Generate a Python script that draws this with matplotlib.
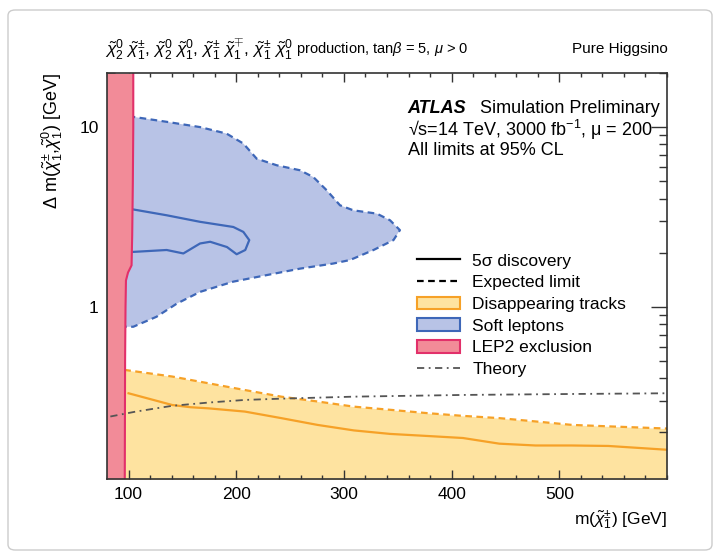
import numpy as np
import matplotlib
matplotlib.use('Agg')
import matplotlib.pyplot as plt
from matplotlib.lines import Line2D
from matplotlib.patches import Patch, FancyBboxPatch
from matplotlib.ticker import MultipleLocator, FixedLocator, FixedFormatter, LogLocator, NullFormatter

plt.rcParams['font.family'] = ['Liberation Sans', 'DejaVu Sans']
plt.rcParams['mathtext.fontset'] = 'custom'
plt.rcParams['mathtext.rm'] = 'Liberation Sans'
plt.rcParams['mathtext.it'] = 'Liberation Sans:italic'
plt.rcParams['mathtext.bf'] = 'Liberation Sans:bold'

# ---------------- data ----------------
# LEP2 exclusion boundary (x = m(chi1+-), as a function of delta m)
lep_dm = [0.11, 0.5, 1.0, 1.4, 1.55, 1.7, 2.5, 5.0, 10.0, 20.0]
lep_m = [96.5, 96.8, 97.2, 97.6, 99.5, 102.8, 103.4, 104.0, 104.4, 104.4]

# Soft leptons expected limit contour (upper edge then lower edge)
sl_exp_m = [100, 104.4, 135.4, 166.4, 191.0, 206.6, 219.0, 237.6, 259.2, 271.6, 284.0,
            296.4, 308.8, 330.5, 342.8, 352.0,
            346.0, 327.5, 305.6, 290.0, 259.2, 228.2, 197.3, 166.4, 144.7, 126.0,
            104.4, 97.0]
sl_exp_dm = [11.4, 11.4, 10.7, 10.0, 9.2, 8.1, 6.67, 6.13, 5.75, 5.27, 4.45,
             3.67, 3.44, 3.30, 3.03, 2.67,
             2.35, 2.07, 1.82, 1.74, 1.63, 1.50, 1.38, 1.21, 1.04, 0.88,
             0.774, 0.774]

# Soft leptons 5 sigma discovery contour
sl_disc_m = [102.0, 104.4, 135.4, 166.4, 197.3, 206.6, 212.1, 208.4, 200.4, 191.4,
             175.8, 166.4, 150.9, 135.4, 104.4, 102.0]
sl_disc_dm = [3.50, 3.48, 3.23, 2.97, 2.78, 2.61, 2.35, 2.07, 1.96, 2.15,
              2.30, 2.25, 1.98, 2.07, 2.02, 2.02]

# Disappearing tracks expected limit
dt_exp_m = [96.0, 96.6, 140.5, 174.3, 208.0, 241.8, 275.5, 309.3, 343.0, 376.8,
            410.5, 444.3, 478.0, 511.8, 545.5, 600.0]
dt_exp_dm = [0.445, 0.445, 0.409, 0.375, 0.344, 0.316, 0.297, 0.278, 0.267, 0.256,
             0.247, 0.240, 0.230, 0.220, 0.216, 0.210]

# Disappearing tracks 5 sigma discovery
dt_disc_m = [100.0, 116.9, 140.5, 157.4, 174.3, 208.0, 241.8, 275.5, 309.3, 343.0,
             376.8, 410.5, 444.3, 478.0, 511.8, 545.5, 600.0]
dt_disc_dm = [0.330, 0.310, 0.284, 0.276, 0.272, 0.261, 0.240, 0.220, 0.205, 0.196,
              0.191, 0.186, 0.173, 0.169, 0.169, 0.168, 0.160]

# Theory curve
th_m = [83.1, 106.8, 140.5, 174.3, 208.0, 241.8, 309.3, 410.5, 511.8, 600.0]
th_dm = [0.245, 0.261, 0.281, 0.293, 0.303, 0.308, 0.316, 0.323, 0.327, 0.330]

x_ticks = [100, 200, 300, 400, 500]
y_ticks = [1, 10]
y_ticklabels = ['1', '10']

legend_labels = ['5σ discovery', 'Expected limit', 'Disappearing tracks',
                 'Soft leptons', 'LEP2 exclusion', 'Theory']

# ---------------- style ----------------
red_fill, red_line = '#f28b98', '#e2306a'
blue_fill, blue_line = '#b8c3e6', '#3e67b8'
orange_fill, orange_line = '#fee3a0', '#f6a127'
theory_col = '#555555'
FS = 12.5

fig = plt.figure(figsize=(7.2, 5.58), dpi=100)
ax = fig.add_axes([107/720, 1 - 479/558, 560/720, 406/558])
ax.set_yscale('log')
ax.set_xlim(80, 600)
ax.set_ylim(0.11, 20)

# disappearing tracks
ax.fill_between(dt_exp_m, 0.05, dt_exp_dm, color=orange_fill, lw=0, zorder=1)
ax.plot(dt_exp_m, dt_exp_dm, color=orange_line, lw=1.6, ls=(0, (3, 2)), zorder=2)
ax.plot(dt_disc_m, dt_disc_dm, color=orange_line, lw=1.6, zorder=2)

# soft leptons
ax.fill(sl_exp_m, sl_exp_dm, color=blue_fill, lw=0, zorder=1)
ax.plot(sl_exp_m, sl_exp_dm, color=blue_line, lw=1.6, ls=(0, (3, 2)), zorder=2)
ax.plot(sl_disc_m, sl_disc_dm, color=blue_line, lw=1.6, zorder=2)

# LEP2
ax.fill_betweenx(lep_dm, 70, lep_m, color=red_fill, lw=0, zorder=4)
ax.plot(lep_m, lep_dm, color=red_line, lw=1.5, zorder=4)

# theory
ax.plot(th_m, th_dm, color=theory_col, lw=1.3, ls=(0, (4, 2.5, 1, 2.5)), zorder=6)

# axes styling
ax.xaxis.set_major_locator(FixedLocator(x_ticks))
ax.xaxis.set_minor_locator(MultipleLocator(20))
ax.yaxis.set_major_locator(FixedLocator(y_ticks))
ax.yaxis.set_major_formatter(FixedFormatter(y_ticklabels))
ax.yaxis.set_minor_locator(LogLocator(base=10, subs=np.arange(2, 10)))
ax.yaxis.set_minor_formatter(NullFormatter())
ax.tick_params(which='both', direction='in', top=True, right=True,
               labelsize=FS, color='#333333', width=1.0)
ax.tick_params(axis='x', which='major', length=6.5, pad=6)
ax.tick_params(axis='x', which='minor', length=3.2)
ax.tick_params(axis='y', which='major', length=11.5, pad=6)
ax.tick_params(axis='y', which='minor', length=5.8)
for s in ax.spines.values():
    s.set_linewidth(1.2)
    s.set_color('#333333')
    s.set_zorder(10)

ax.set_xlabel(r'm($\tilde{\chi}^{\pm}_{1}$) [GeV]', fontsize=FS, loc='right', labelpad=4)
ax.set_ylabel(r'$\Delta$ m($\tilde{\chi}^{\pm}_{1}$,$\tilde{\chi}^{0}_{1}$) [GeV]',
              fontsize=13, loc='top', labelpad=10)

# title line above the frame
t1 = fig.text(105/720, 1 - 50/558,
              r'$\tilde{\chi}^{0}_{2}\ \tilde{\chi}^{\pm}_{1}$, $\tilde{\chi}^{0}_{2}\ \tilde{\chi}^{0}_{1}$, '
              r'$\tilde{\chi}^{\pm}_{1}\ \tilde{\chi}^{\mp}_{1}$, $\tilde{\chi}^{\pm}_{1}\ \tilde{\chi}^{0}_{1}$',
              fontsize=12.5, ha='left', va='center')
fig.canvas.draw()
bb = t1.get_window_extent(fig.canvas.get_renderer())
fig.text(bb.x1/720 + 3/720, 1 - 49/558, r'production, tan$\beta$ = 5, $\mu$ > 0',
         fontsize=10.5, ha='left', va='center')
fig.text(668/720, 1 - 49/558, 'Pure Higgsino', fontsize=11, ha='right', va='center')

ax.text(0.537, 0.912, 'ATLAS', fontsize=FS + 0.5, fontweight='bold', fontstyle='italic',
        transform=ax.transAxes, ha='left', va='center')
ax.text(0.666, 0.912, 'Simulation Preliminary', fontsize=FS + 0.5,
        transform=ax.transAxes, ha='left', va='center')
ax.text(0.537, 0.860, '√s=14 TeV, 3000 fb$^{-1}$, μ = 200', fontsize=FS + 0.5,
        transform=ax.transAxes, ha='left', va='center')
ax.text(0.537, 0.808, 'All limits at 95% CL', fontsize=FS + 0.5,
        transform=ax.transAxes, ha='left', va='center')

handles = [
    Line2D([], [], color='black', lw=1.6),
    Line2D([], [], color='black', lw=1.6, ls=(0, (3, 2))),
    Patch(facecolor=orange_fill, edgecolor=orange_line, lw=1.5),
    Patch(facecolor=blue_fill, edgecolor=blue_line, lw=1.5),
    Patch(facecolor=red_fill, edgecolor=red_line, lw=1.5),
    Line2D([], [], color=theory_col, lw=1.3, ls=(0, (4, 2.5, 1, 2.5))),
]
leg = ax.legend(handles, legend_labels, loc='upper left',
                bbox_to_anchor=(0.553, 0.556), frameon=False, fontsize=FS,
                borderpad=0, borderaxespad=0, handlelength=2.5, handleheight=0.75,
                handletextpad=0.7, labelspacing=0.36)

# outer frame of the picture
fig.patches.append(FancyBboxPatch((8/720, 8/558), 704/720, 540/558,
                                  boxstyle='round,pad=0,rounding_size=0.01',
                                  transform=fig.transFigure, facecolor='none',
                                  edgecolor='#cccccc', lw=1.0))

fig.savefig('out.png', dpi=100)
